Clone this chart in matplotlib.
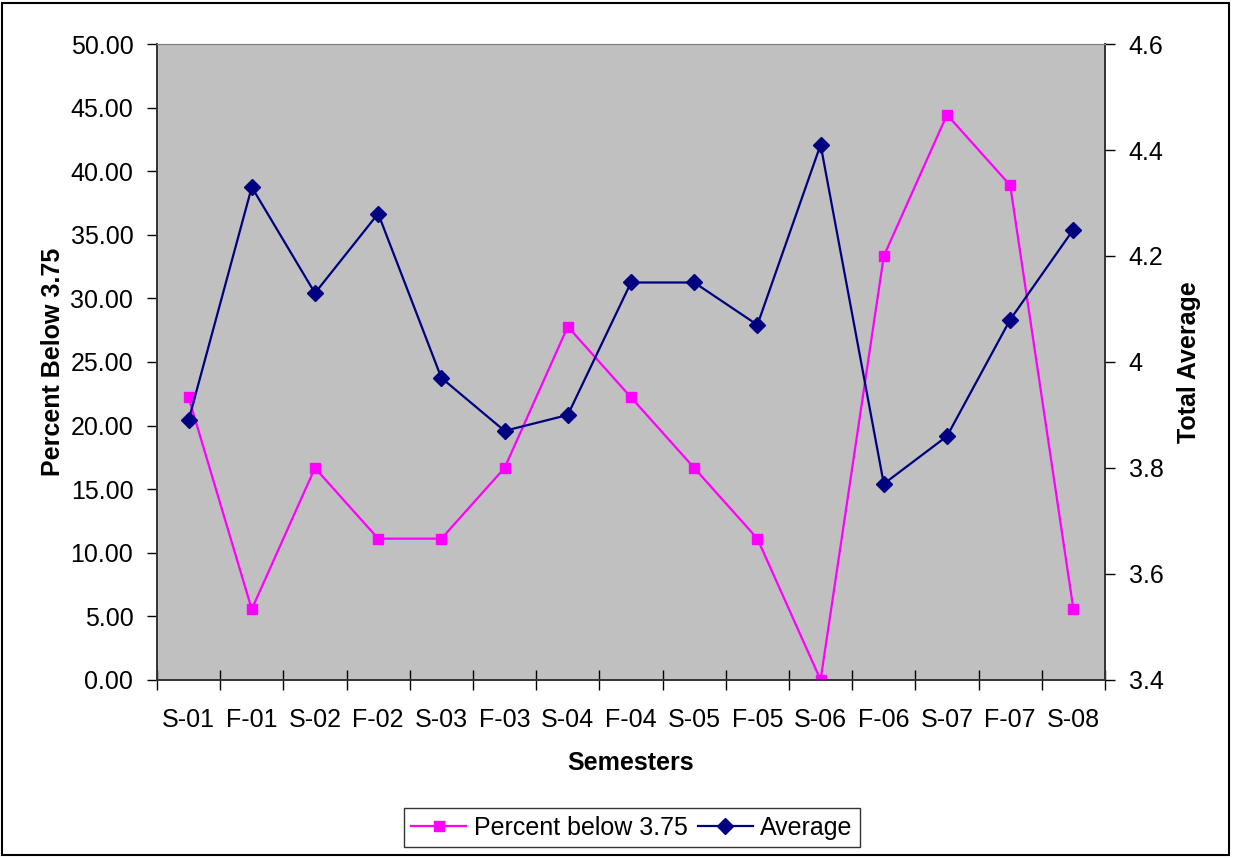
import matplotlib.pyplot as plt
from matplotlib.patches import Rectangle

plt.rcParams['font.family'] = ['Liberation Sans', 'DejaVu Sans']

semesters = ['S-01', 'F-01', 'S-02', 'F-02', 'S-03', 'F-03', 'S-04', 'F-04',
             'S-05', 'F-05', 'S-06', 'F-06', 'S-07', 'F-07', 'S-08']
percent_below = [22.22, 5.56, 16.67, 11.11, 11.11, 16.67, 27.78, 22.22,
                 16.67, 11.11, 0.00, 33.33, 44.44, 38.89, 5.56]
average = [3.89, 4.33, 4.13, 4.28, 3.97, 3.87, 3.90, 4.15,
           4.15, 4.07, 4.41, 3.77, 3.86, 4.08, 4.25]

fig = plt.figure(figsize=(12.33, 8.58), dpi=100)
ax = fig.add_axes([0.1273, 0.2075, 0.7689, 0.7412])
ax2 = ax.twinx()

x = list(range(len(semesters)))
l1, = ax.plot(x, percent_below, color='#FF00FF', lw=1.6, marker='s', ms=7.5,
              label='Percent below 3.75', zorder=3)
l2, = ax2.plot(x, average, color='#000080', lw=1.6, marker='D', ms=8,
               label='Average', zorder=3)

ax.set_facecolor('#C0C0C0')
ax.set_xlim(-0.5, len(semesters) - 0.5)
ax.set_ylim(0, 50)
ax2.set_ylim(3.4, 4.6)

# category boundaries get the ticks, centres get the labels
ax.set_xticks([i - 0.5 for i in range(len(semesters) + 1)])
ax.set_xticklabels([])
ax.set_xticks(x, minor=True)
ax.set_xticklabels(semesters, minor=True, fontsize=18)
ax.tick_params(axis='x', which='major', direction='inout', length=14, width=1)
ax.tick_params(axis='x', which='minor', length=0, pad=20)

ax.set_yticks([i * 5 for i in range(11)])
ax.set_yticklabels(['%.2f' % (i * 5) for i in range(11)], fontsize=18)
ax.tick_params(axis='y', direction='out', length=7, width=1, pad=10)
ax2.set_yticks([3.4, 3.6, 3.8, 4.0, 4.2, 4.4, 4.6])
ax2.set_yticklabels(['3.4', '3.6', '3.8', '4', '4.2', '4.4', '4.6'], fontsize=18)
ax2.tick_params(axis='y', direction='out', length=7, width=1, pad=10)

for a in (ax, ax2):
    a.spines['top'].set_color('#808080')
    for s in ('left', 'right', 'bottom'):
        a.spines[s].set_color('#333333')
        a.spines[s].set_linewidth(1.2)

ax.set_xlabel('Semesters', fontsize=18, fontweight='bold', labelpad=14)
ax.set_ylabel('Percent Below 3.75', fontsize=18, fontweight='bold', labelpad=4)
ax2.set_ylabel('Total Average', fontsize=18, fontweight='bold', labelpad=10)

leg = fig.legend(handles=[l1, l2], loc='center', bbox_to_anchor=(0.5126, 0.035),
                 ncol=2, fontsize=18, frameon=True, fancybox=False,
                 edgecolor='black', handlelength=2.2, columnspacing=0.4,
                 handletextpad=0.3, borderpad=0.3, borderaxespad=0)
leg.get_frame().set_linewidth(1)

fig.patches.append(Rectangle((0.002, 0.003), 0.995, 0.994, transform=fig.transFigure,
                             fill=False, edgecolor='black', lw=1.5))

fig.savefig('out.png', dpi=100)
